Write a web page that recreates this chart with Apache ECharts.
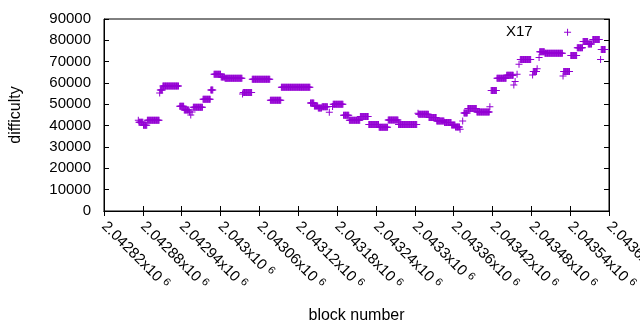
<!DOCTYPE html>
<html><head><meta charset="utf-8">
<script src="https://cdn.jsdelivr.net/npm/echarts@6/dist/echarts.min.js"></script>
<style>html,body{margin:0;padding:0;background:#fff}#c{width:640px;height:330px}</style>
</head><body><div id="c"></div>
<script>
// Difficulty per block, read from the reference as runs of constant value
// (each run: first block, last block, difficulty).
const runStart = [2042873,2042874,2042881,2042887,2042906,2042907,2042911,2042937,2042944,2042952,2042954,2042956,2042958,2042973,2042985,2042990,2043001,2043007,2043034,2043035,2043049,2043077,2043094,2043139,2043145,2043151,2043157,2043168,2043173,2043174,2043190,2043199,2043216,2043229,2043245,2043259,2043275,2043305,2043306,2043322,2043334,2043346,2043357,2043363,2043370,2043374,2043376,2043382,2043396,2043416,2043418,2043427,2043442,2043453,2043455,2043458,2043461,2043463,2043482,2043483,2043489,2043492,2043493,2043501,2043529,2043530,2043536,2043541,2043551,2043560,2043568,2043575,2043587,2043588];
const runEnd   = [2042873,2042880,2042886,2042905,2042906,2042910,2042935,2042943,2042951,2042952,2042954,2042956,2042972,2042984,2042988,2043000,2043006,2043033,2043034,2043048,2043076,2043093,2043138,2043144,2043150,2043156,2043165,2043168,2043173,2043189,2043198,2043215,2043228,2043244,2043258,2043274,2043303,2043305,2043321,2043333,2043345,2043356,2043362,2043369,2043370,2043374,2043381,2043395,2043415,2043416,2043426,2043441,2043452,2043453,2043455,2043458,2043461,2043479,2043482,2043488,2043489,2043492,2043500,2043528,2043529,2043539,2043536,2043550,2043559,2043567,2043573,2043585,2043587,2043594];
const runValue = [42500,41600,40200,42500,55300,56700,58600,49100,47300,46400,45000,46400,48600,52400,56700,64100,62800,62200,54800,55600,61700,51900,58000,50600,49200,48300,48900,46300,49000,50000,44900,42500,44300,40600,39200,42600,40500,45800,45300,43800,42200,41500,40300,39400,38300,42200,45900,48100,46400,48900,56500,62200,63600,59100,60700,64100,68800,71000,63800,65400,66700,72000,74700,73900,63300,65400,83800,72900,76500,79500,78300,80400,71000,75700];

const xMin = 2042820, xMax = 2043600, xStep = 60;
const yMin = 0, yMax = 90000, yStep = 10000;
const xTitle = 'block number', yTitle = 'difficulty', note = 'X17';

const points = [];
for (let i = 0; i < runStart.length; i++) {
  for (let b = runStart[i]; b <= runEnd[i]; b++) points.push([b, runValue[i]]);
}

const FONT = 'Liberation Sans, Arial, sans-serif';
const chart = echarts.init(document.getElementById('c'), null, {renderer: 'canvas'});
const tick = {show: true, inside: true, length: 5, lineStyle: {color: '#000', width: 1}};
const line = {show: true, lineStyle: {color: '#000', width: 1}};
const plus = 'path://M3,0h1v7h-1z M0,3h7v1h-7z';

chart.setOption({
  animation: false,
  backgroundColor: '#fff',
  grid: {left: 104, right: 31, top: 19, bottom: 119, show: true, borderColor: '#000', borderWidth: 1,
         containLabel: false, outerBoundsMode: 'none'},
  xAxis: [{
    type: 'value', min: xMin, max: xMax, interval: xStep, position: 'bottom',
    axisLine: line, axisTick: tick, splitLine: {show: false},
    name: xTitle, nameLocation: 'middle', nameGap: 97,
    nameTextStyle: {fontFamily: FONT, fontSize: 16, color: '#000'},
    axisLabel: {
      rotate: -45, margin: 13, color: '#000', fontFamily: FONT, fontSize: 15,
      showMinLabel: true, showMaxLabel: true, hideOverlap: false,
      formatter: v => '{m|' + parseFloat((v / 1e6).toFixed(6)).toString() + 'x10}{e|6}',
      rich: {m: {fontFamily: FONT, fontSize: 15, color: '#000'},
             e: {fontFamily: FONT, fontSize: 11, color: '#000', padding: [0, 0, 6, 4]}}
    }
  }, {
    type: 'value', min: xMin, max: xMax, interval: xStep, position: 'top',
    axisLine: line, axisTick: tick, axisLabel: {show: false}, splitLine: {show: false}
  }],
  yAxis: [{
    type: 'value', min: yMin, max: yMax, interval: yStep, position: 'left',
    axisLine: line, axisTick: tick, splitLine: {show: false},
    axisLabel: {margin: 13, color: '#000', fontFamily: FONT, fontSize: 15, formatter: v => String(v)},
    name: yTitle, nameLocation: 'middle', nameGap: 80, nameRotate: 90,
    nameTextStyle: {fontFamily: FONT, fontSize: 16, color: '#000'}
  }, {
    type: 'value', min: yMin, max: yMax, interval: yStep, position: 'right',
    axisLine: line, axisTick: tick, axisLabel: {show: false}, splitLine: {show: false}
  }],
  graphic: [{type: 'text', left: 506, top: 24, style: {text: note, font: '15px ' + FONT, fill: '#000'}}],
  series: [{
    type: 'scatter', xAxisIndex: 0, yAxisIndex: 0, data: points,
    symbol: plus, symbolSize: 7, itemStyle: {color: '#9400D3', opacity: 1},
    emphasis: {disabled: true}, large: false
  }]
});
</script></body></html>
